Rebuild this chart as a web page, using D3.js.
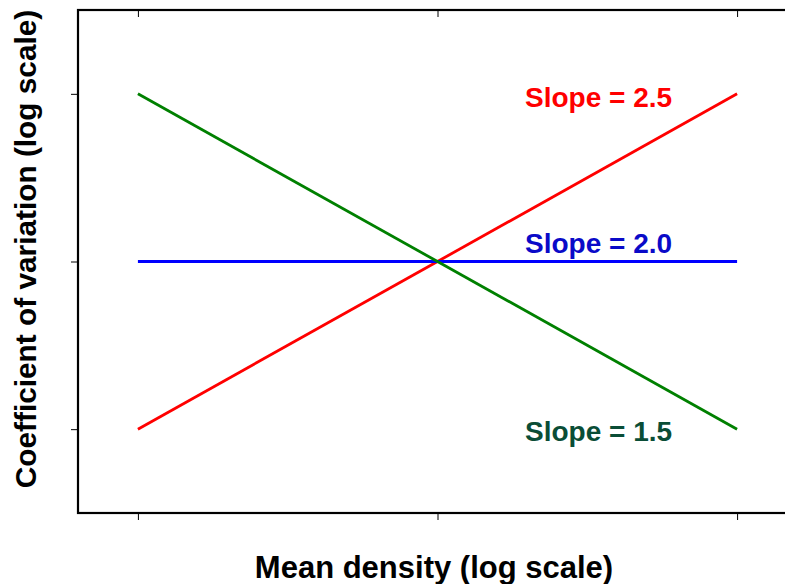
<!DOCTYPE html>
<html>
<head>
<meta charset="utf-8">
<style>
  body { margin: 0; background: #fff; }
  svg { display: block; font-family: Arial, "Liberation Sans", sans-serif; font-weight: bold; }
</style>
</head>
<body>
<script src="https://cdn.jsdelivr.net/npm/d3@7"></script>
<script>
// data (axes are unlabeled log scales)
var meanDensity = [1, 100, 10000];
var xTicks = [1, 100, 10000];
var yTicks = [0.1, 1, 10];
var slopeNames = ["Slope = 2.5", "Slope = 2.0", "Slope = 1.5"];
var cv25 = [0.1, 1, 10];
var cv20 = [1, 1, 1];
var cv15 = [10, 1, 0.1];
var lineColors = ["#ff0000", "#0000ff", "#008000"];
var labelColors = ["#ff0000", "#0a0ac8", "#0a4d36"];
var labelY = [8.4, 1.12, 0.085];

var w = 785, h = 584;
// plot box (right edge runs past the window)
var boxL = 78, boxT = 10, boxR = 797, boxB = 513;

var svg = d3.select("body").append("svg")
    .attr("width", w)
    .attr("height", h);

var x = d3.scaleLog()
    .domain([Math.pow(10, -0.4), Math.pow(10, 4.4)])
    .range([boxL, boxR]);
var y = d3.scaleLog()
    .domain([Math.pow(10, -1.5), Math.pow(10, 1.5)])
    .range([boxB, boxT]);

// axes, ticks only
function noLabels(g) {
    g.select(".domain").remove();
    g.selectAll("line").attr("stroke", "#000").attr("stroke-width", 1);
    g.selectAll("text").remove();
}
svg.append("g").attr("transform", "translate(" + boxL + ",0)")
    .call(d3.axisLeft(y).tickValues(yTicks).tickSize(7)).call(noLabels);
svg.append("g").attr("transform", "translate(0," + boxB + ")")
    .call(d3.axisBottom(x).tickValues(xTicks).tickSize(7)).call(noLabels);
svg.append("g").attr("transform", "translate(0," + boxT + ")")
    .call(d3.axisTop(x).tickValues(xTicks).tickSize(-7)).call(noLabels);
svg.append("g").attr("transform", "translate(" + boxR + ",0)")
    .call(d3.axisRight(y).tickValues(yTicks).tickSize(-7)).call(noLabels);

svg.append("rect")
    .attr("x", boxL).attr("y", boxT)
    .attr("width", boxR - boxL).attr("height", boxB - boxT)
    .attr("fill", "none")
    .attr("stroke", "#000")
    .attr("stroke-width", 2.2);

var series = [cv25, cv20, cv15];
var line = d3.line()
    .x(function(d, i) { return x(meanDensity[i]); })
    .y(function(d) { return y(d); });

svg.selectAll("path.series")
    .data(series)
  .enter().append("path")
    .attr("class", "series")
    .attr("d", line)
    .attr("fill", "none")
    .attr("stroke", function(d, i) { return lineColors[i]; })
    .attr("stroke-width", 2.8);

svg.selectAll("text.lbl")
    .data(slopeNames)
  .enter().append("text")
    .attr("class", "lbl")
    .attr("x", 525)
    .attr("y", function(d, i) { return y(labelY[i]); })
    .attr("fill", function(d, i) { return labelColors[i]; })
    .style("font-size", "28px")
    .text(function(d) { return d; });

svg.append("text")
    .attr("x", 434)
    .attr("y", 578)
    .attr("text-anchor", "middle")
    .style("font-size", "31px")
    .text("Mean density (log scale)");

svg.append("text")
    .attr("transform", "translate(36,249)rotate(-90)")
    .attr("text-anchor", "middle")
    .style("font-size", "29.8px")
    .text("Coefficient of variation (log scale)");
</script>
</body>
</html>
